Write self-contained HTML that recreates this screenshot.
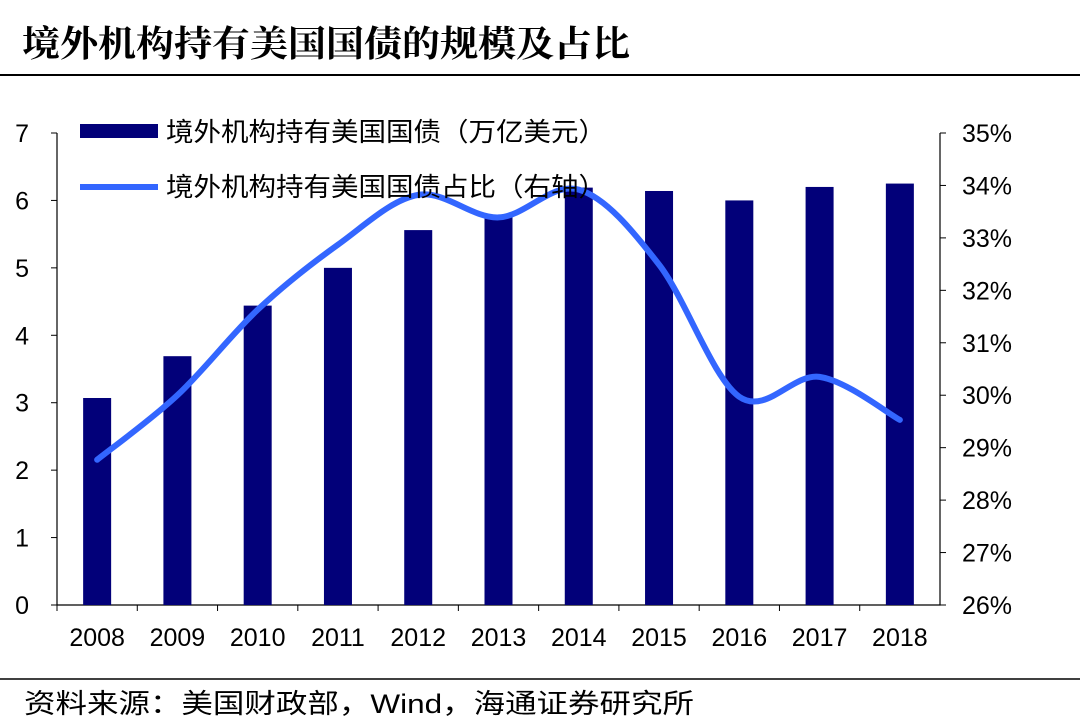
<!DOCTYPE html>
<html><head><meta charset="utf-8">
<style>
body{margin:0;background:#fff;width:1080px;height:723px;overflow:hidden;font-family:"Liberation Sans","Noto Sans CJK SC",sans-serif;}
svg text{font-family:"Liberation Sans","Noto Sans CJK SC",sans-serif;}
</style></head>
<body>
<svg id="chart" width="1080" height="723">
<text x="22" y="56" font-size="36" font-weight="bold" fill="#000" textLength="608" lengthAdjust="spacingAndGlyphs" style="font-family:'Noto Serif CJK SC',serif">境外机构持有美国国债的规模及占比</text>
<line x1="0" y1="75" x2="1080" y2="75" stroke="#000" stroke-width="2"/>
<line x1="0" y1="679" x2="1080" y2="679" stroke="#000" stroke-width="1.5"/>
<text x="24" y="713" font-size="27" fill="#000" textLength="670" lengthAdjust="spacingAndGlyphs">资料来源：美国财政部，Wind，海通证券研究所</text>
<g id="plot"></g>
</svg>
<script>
const categories=["2008","2009","2010","2011","2012","2013","2014","2015","2016","2017","2018"];
const holdings=[3.07,3.69,4.44,5.0,5.56,5.79,6.19,6.14,6.0,6.2,6.25];
const share=[28.77,30.0,31.63,32.87,33.82,33.39,33.92,32.49,29.97,30.35,29.53];
const leftTicks=[0,1,2,3,4,5,6,7];
const rightTicks=[26,27,28,29,30,31,32,33,34,35];
const NS="http://www.w3.org/2000/svg";
const g=document.getElementById('plot');
const x0=57,x1=940,yB=605,yT=133;
const bw=(x1-x0)/categories.length;
const xc=i=>x0+bw*(i+0.5);
const yL=v=>yB-(v/7)*(yB-yT);
const yR=v=>yB-((v-26)/9)*(yB-yT);
function el(t,a,p){const e=document.createElementNS(NS,t);for(const k in a)e.setAttribute(k,a[k]);(p||g).appendChild(e);return e;}
const ax=el('path',{d:`M${x0},${yT} V${yB} H${x1} V${yT}`,fill:'none',stroke:'#000','stroke-width':1.2});


leftTicks.forEach(v=>{const y=yL(v);
 const tk=el('line',{x1:x0-6,x2:x0,y1:y,y2:y,stroke:'#000'});
 
 
 const t=el('text',{x:x0-28,y:y+9,'font-size':25,'text-anchor':'end'});t.textContent=v;
 
 });
rightTicks.forEach(v=>{const y=yR(v);
 const tk=el('line',{x1:x1,x2:x1+6,y1:y,y2:y,stroke:'#000'});
 
 
 const t=el('text',{x:x1+22,y:y+9,'font-size':25});t.textContent=v+'%';
 
 });
categories.forEach((c,i)=>{
 const tk=el('line',{x1:x0+bw*i,x2:x0+bw*i,y1:yB,y2:yB+6,stroke:'#000'});
 
 
 const t=el('text',{x:xc(i),y:yB+41,'font-size':25,'text-anchor':'middle'});t.textContent=c;
 
 
 const b=el('rect',{x:xc(i)-14,y:yL(holdings[i]),width:28,height:yB-yL(holdings[i]),fill:'#020079'});
 
 
});
const pts=share.map((v,i)=>[xc(i),yR(v)]);
let d=`M${pts[0][0]},${pts[0][1]}`;
for(let i=0;i<pts.length-1;i++){const p0=pts[i-1]||pts[i],p1=pts[i],p2=pts[i+1],p3=pts[i+2]||p2;
 const c1=[p1[0]+(p2[0]-p0[0])/6,p1[1]+(p2[1]-p0[1])/6],c2=[p2[0]-(p3[0]-p1[0])/6,p2[1]-(p3[1]-p1[1])/6];
 d+=` C${c1[0]},${c1[1]} ${c2[0]},${c2[1]} ${p2[0]},${p2[1]}`;}
const ln=el('path',{d:d,fill:'none',stroke:'#3366ff','stroke-width':6,'stroke-linecap':'round'});


const lg1=el('rect',{x:80,y:124,width:78,height:14,fill:'#020079'});


const lt1=el('text',{x:166,y:141,'font-size':26,textLength:440,lengthAdjust:'spacingAndGlyphs'});lt1.textContent='境外机构持有美国国债（万亿美元）';


const lg2=el('line',{x1:80,x2:158,y1:187,y2:187,stroke:'#3366ff','stroke-width':6});


const lt2=el('text',{x:166,y:196,'font-size':26,textLength:440,lengthAdjust:'spacingAndGlyphs'});lt2.textContent='境外机构持有美国国债占比（右轴）';


</script>
</body></html>
